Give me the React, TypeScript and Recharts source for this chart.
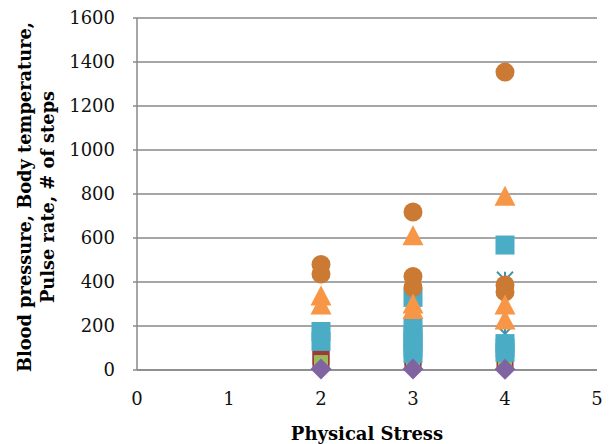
import React from 'react'
import {
  ScatterChart,
  Scatter,
  XAxis,
  YAxis,
  CartesianGrid,
} from 'recharts'

// stress level (x) and reading (y) for each plotted series
const diastolicX = [2, 2, 3, 3, 4]
const diastolicY = [62, 48, 60, 40, 40]

const temperatureX = [2, 3, 4]
const temperatureY = [36, 36, 37]

const stepsX = [3, 4, 4]
const stepsY = [150, 410, 165]

const systolicX = [2, 2, 3, 3, 3, 3, 3, 3, 4, 4, 4, 4]
const systolicY = [175, 130, 330, 190, 160, 130, 100, 75, 568, 120, 100, 80]

const stressX = [2, 3, 4]
const stressY = [5, 5, 3]

const pulseX = [2, 2, 3, 3, 3, 4, 4, 4]
const pulseY = [480, 436, 718, 425, 375, 1354, 386, 355]

const heartX = [2, 2, 3, 3, 3, 4, 4, 4]
const heartY = [336, 295, 610, 300, 275, 790, 295, 227]

const xTicks = [0, 1, 2, 3, 4, 5]
const yTicks = [0, 200, 400, 600, 800, 1000, 1200, 1400, 1600]

const toPoints = (xs: number[], ys: number[]) =>
  xs.map((x, i) => ({ x, y: ys[i] }))

const FONT = '"DejaVu Serif", serif'

type Kind = 'circle' | 'square' | 'triangle' | 'diamond' | 'x'

function marker(kind: Kind, color: string, size: number) {
  return (props: any) => {
    const { cx, cy } = props
    const h = size / 2
    if (kind === 'circle') return <circle cx={cx} cy={cy} r={h} fill={color} />
    if (kind === 'square')
      return <rect x={cx - h} y={cy - h} width={size} height={size} fill={color} />
    if (kind === 'triangle')
      return (
        <polygon
          points={`${cx},${cy - h} ${cx + h},${cy + h * 0.9} ${cx - h},${cy + h * 0.9}`}
          fill={color}
        />
      )
    if (kind === 'diamond')
      return (
        <polygon
          points={`${cx},${cy - h} ${cx + h},${cy} ${cx},${cy + h} ${cx - h},${cy}`}
          fill={color}
        />
      )
    return (
      <g stroke={color} strokeWidth={2}>
        <line x1={cx - h} y1={cy - h} x2={cx + h} y2={cy + h} />
        <line x1={cx - h} y1={cy + h} x2={cx + h} y2={cy - h} />
        <line x1={cx} y1={cy - h} x2={cx} y2={cy + h} />
      </g>
    )
  }
}

function YTitle(props: any) {
  const vb = props.viewBox || { y: 18, height: 352 }
  const cy = vb.y + vb.height / 2 + 3
  const style = { fontFamily: FONT, fontWeight: 'bold' as const, fontSize: 17.8, fill: '#000' }
  return (
    <g>
      <text x={24} y={cy} transform={`rotate(-90 24 ${cy})`} textAnchor="middle" dominantBaseline="central" style={style}>
        Blood pressure, Body temperature,
      </text>
      <text x={47} y={cy} transform={`rotate(-90 47 ${cy})`} textAnchor="middle" dominantBaseline="central" style={style}>
        Pulse rate, # of steps
      </text>
    </g>
  )
}

export default function App() {
  const tick = { fontFamily: FONT, fontSize: 18, fill: '#111' }
  return (
    <div style={{ position: 'absolute', left: 0, top: 0, width: 615, height: 444, background: '#fff' }}>
      <ScatterChart width={615} height={444} margin={{ top: 18, right: 18, left: 0, bottom: 0 }}>
        <CartesianGrid vertical={false} stroke="#888" strokeWidth={1.5} />
        <XAxis
          type="number"
          dataKey="x"
          domain={[0, 5]}
          ticks={xTicks}
          tick={tick}
          tickLine={false}
          axisLine={{ stroke: '#888', strokeWidth: 1.5 }}
          tickMargin={16}
          height={74}
          label={{
            value: 'Physical Stress',
            position: 'insideBottom',
            offset: 4,
            style: { fontFamily: FONT, fontWeight: 'bold', fontSize: 18, fill: '#000' },
          }}
        />
        <YAxis
          type="number"
          dataKey="y"
          domain={[0, 1600]}
          ticks={yTicks}
          tick={tick}
          tickSize={4}
          tickLine={{ stroke: '#888', strokeWidth: 1.5 }}
          axisLine={{ stroke: '#888', strokeWidth: 1.5 }}
          tickMargin={18}
          width={137}
          label={<YTitle />}
        />
        <Scatter data={toPoints(diastolicX, diastolicY)} shape={marker('square', '#9C3B38', 17)} isAnimationActive={false} />
        <Scatter data={toPoints(temperatureX, temperatureY)} shape={marker('square', '#9BBB59', 14)} isAnimationActive={false} />
        <Scatter data={toPoints(stepsX, stepsY)} shape={marker('x', '#3F93AA', 16)} isAnimationActive={false} />
        <Scatter data={toPoints(systolicX, systolicY)} shape={marker('square', '#4BACC6', 19)} isAnimationActive={false} />
        <Scatter data={toPoints(stressX, stressY)} shape={marker('diamond', '#8064A2', 21)} isAnimationActive={false} />
        <Scatter data={toPoints(pulseX, pulseY)} shape={marker('circle', '#CB7A34', 19)} isAnimationActive={false} />
        <Scatter data={toPoints(heartX, heartY)} shape={marker('triangle', '#F79646', 21)} isAnimationActive={false} />
      </ScatterChart>
    </div>
  )
}
